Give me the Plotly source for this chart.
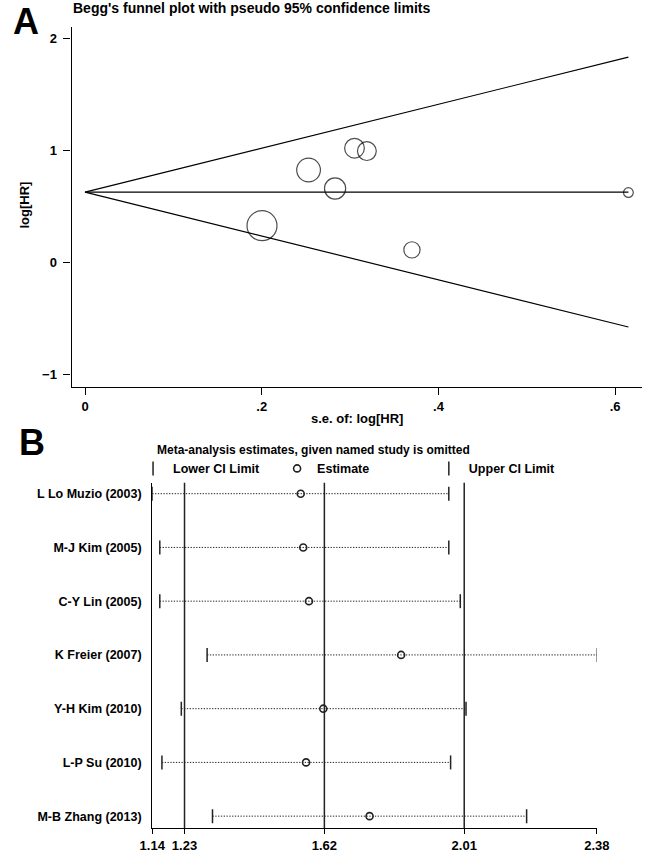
import plotly.graph_objects as go
import numpy as np

# ---------- Panel A data (Begg's funnel) ----------
se_loghr = [0.2003, 0.253, 0.283, 0.305, 0.319, 0.370, 0.615]
loghr = [0.331, 0.828, 0.663, 1.023, 0.997, 0.115, 0.627]
funnel_xticks = [0, 0.2, 0.4, 0.6]
funnel_xtick_text = ["0", ".2", ".4", ".6"]
funnel_yticks = [-1, 0, 1, 2]

# ---------- Panel B data (leave-one-out sensitivity) ----------
studies = ["L Lo Muzio (2003)", "M-J Kim (2005)", "C-Y Lin (2005)", "K Freier (2007)",
           "Y-H Kim (2010)", "L-P Su (2010)", "M-B Zhang (2013)"]
est = [1.554, 1.561, 1.577, 1.834, 1.617, 1.569, 1.746]
lower = [1.14, 1.161, 1.161, 1.293, 1.221, 1.167, 1.308]
upper = [1.967, 1.967, 1.999, 2.381, 2.015, 1.972, 2.184]
overall_lo, overall_est, overall_hi = 1.23, 1.62, 2.01
sens_ticks = [1.14, 1.23, 1.62, 2.01, 2.38]

W, H = 656, 853
FONT = "Liberation Sans, Arial, sans-serif"

def px(x):
    return x / W

def py(y):
    return 1 - y / H

def bold(size):
    return dict(family=FONT, size=size, color="black", weight="bold")

fig = go.Figure()

# ---- Panel A ----
se = np.array(se_loghr)
y = np.array(loghr)
w = 1 / se**2
pooled = float((w * y).sum() / w.sum())
smax = float(se.max())

fig.add_trace(go.Scatter(
    x=[smax, 0, smax], y=[pooled + 1.96 * smax, pooled, pooled - 1.96 * smax],
    mode="lines", line=dict(color="black", width=1.2), showlegend=False,
    xaxis="x", yaxis="y", hoverinfo="skip"))
fig.add_trace(go.Scatter(
    x=[0, smax], y=[pooled, pooled], mode="lines",
    line=dict(color="black", width=1.2), showlegend=False,
    xaxis="x", yaxis="y", hoverinfo="skip"))
fig.add_trace(go.Scatter(
    x=se_loghr, y=loghr, mode="markers",
    marker=dict(symbol="circle-open", size=list(6 / se), color="black",
                line=dict(width=1.2, color="black")),
    showlegend=False, xaxis="x", yaxis="y"))

# ---- Panel B ----
lx, ly = [], []
for s, lo, hi in zip(studies, lower, upper):
    lx += [lo, hi, None]
    ly += [s, s, None]
fig.add_trace(go.Scatter(x=lx, y=ly, mode="lines",
                         line=dict(color="#222222", width=1, dash="1.3px,1.5px"),
                         showlegend=False, xaxis="x2", yaxis="y2", hoverinfo="skip"))
fig.add_trace(go.Scatter(x=lower, y=studies, mode="markers", name="Lower CI Limit",
                         marker=dict(symbol="line-ns", size=10, color="black",
                                     line=dict(width=1.5, color="#222222")),
                         xaxis="x2", yaxis="y2", legend="legend"))
fig.add_trace(go.Scatter(x=est, y=studies, mode="markers", name="Estimate",
                         marker=dict(symbol="circle-open", size=7, color="#222222",
                                     line=dict(width=1.6, color="#222222")),
                         xaxis="x2", yaxis="y2", legend="legend2"))
fig.add_trace(go.Scatter(x=upper, y=studies, mode="markers", name="Upper CI Limit",
                         marker=dict(symbol="line-ns", size=10, color="black",
                                     line=dict(width=1.5, color="#222222")),
                         xaxis="x2", yaxis="y2", legend="legend3"))

shapes = []
for v in [overall_lo, overall_est, overall_hi]:
    shapes.append(dict(type="line", xref="x2", yref="y2 domain", x0=v, x1=v, y0=0, y1=1,
                       line=dict(color="#222222", width=1.5), layer="below"))

tickfont = bold(13)

def leg(x_sym):
    return dict(x=px(x_sym - 22), xanchor="left", y=py(471), yanchor="middle",
                itemwidth=30, bgcolor="rgba(0,0,0,0)", borderwidth=0, font=bold(12.5))

fig.update_layout(
    width=W, height=H, margin=dict(l=0, r=0, t=0, b=0),
    paper_bgcolor="white", plot_bgcolor="white",
    font=dict(family=FONT, color="black"),
    shapes=shapes,
    xaxis=dict(domain=[px(61), px(655)], range=[-14 / 920, 580 / 920],
               tickvals=funnel_xticks, ticktext=funnel_xtick_text,
               showline=True, linecolor="black", linewidth=1.2,
               ticks="outside", ticklen=7, tickcolor="black", tickwidth=1.2,
               showgrid=False, zeroline=False, tickfont=tickfont, anchor="y"),
    yaxis=dict(domain=[py(389), py(27)], range=[(264 - 389) / 112.5, (264 - 27) / 112.5],
               tickvals=funnel_yticks,
               showline=True, linecolor="black", linewidth=1.2,
               ticks="outside", ticklen=7, tickcolor="black", tickwidth=1.2,
               ticklabelstandoff=4,
               showgrid=False, zeroline=False, tickfont=tickfont, anchor="x"),
    xaxis2=dict(domain=[px(145), px(608)], range=[1.14, 2.38],
                tickvals=sens_ticks, ticktext=[f"{v:.2f}" for v in sens_ticks],
                showline=True, linecolor="black", linewidth=1.2,
                ticks="outside", ticklen=5, tickcolor="black", tickwidth=1.2,
                showgrid=False, zeroline=False, tickfont=tickfont, anchor="y2"),
    yaxis2=dict(domain=[py(832), py(485)], type="category",
                categoryorder="array", categoryarray=studies,
                range=[6 + 12 / 54, -11 / 54],
                showline=True, linecolor="black", linewidth=1.2,
                ticks="", showgrid=False, zeroline=False, ticklabelstandoff=7,
                tickfont=bold(12.5), anchor="x2"),
    legend=leg(147),
    legend2=leg(297),
    legend3=leg(455),
    annotations=[
        dict(text="A", x=px(14), y=py(22), xref="paper", yref="paper", showarrow=False,
             xanchor="center", yanchor="middle", font=bold(36)),
        dict(text="B", x=px(20), y=py(445), xref="paper", yref="paper", showarrow=False,
             xanchor="center", yanchor="middle", font=bold(36)),
        dict(text="Begg's funnel plot with pseudo 95% confidence limits",
             x=px(60), y=py(8), xref="paper", yref="paper", xanchor="left", yanchor="middle",
             showarrow=False, font=bold(14)),
        dict(text="log[HR]", x=px(12), y=py(206), xref="paper", yref="paper", textangle=-90,
             xanchor="center", yanchor="middle", showarrow=False, font=bold(13)),
        dict(text="s.e. of: log[HR]", x=px(358), y=py(420), xref="paper", yref="paper",
             xanchor="center", yanchor="middle", showarrow=False, font=bold(13)),
        dict(text="Meta-analysis estimates, given named study is omitted",
             x=px(148), y=py(452), xref="paper", yref="paper", xanchor="left", yanchor="middle",
             showarrow=False, font=bold(12)),
    ],
)

fig.write_html("out.html", config={"displayModeBar": False},
               post_script="document.body.style.margin='0px';")
